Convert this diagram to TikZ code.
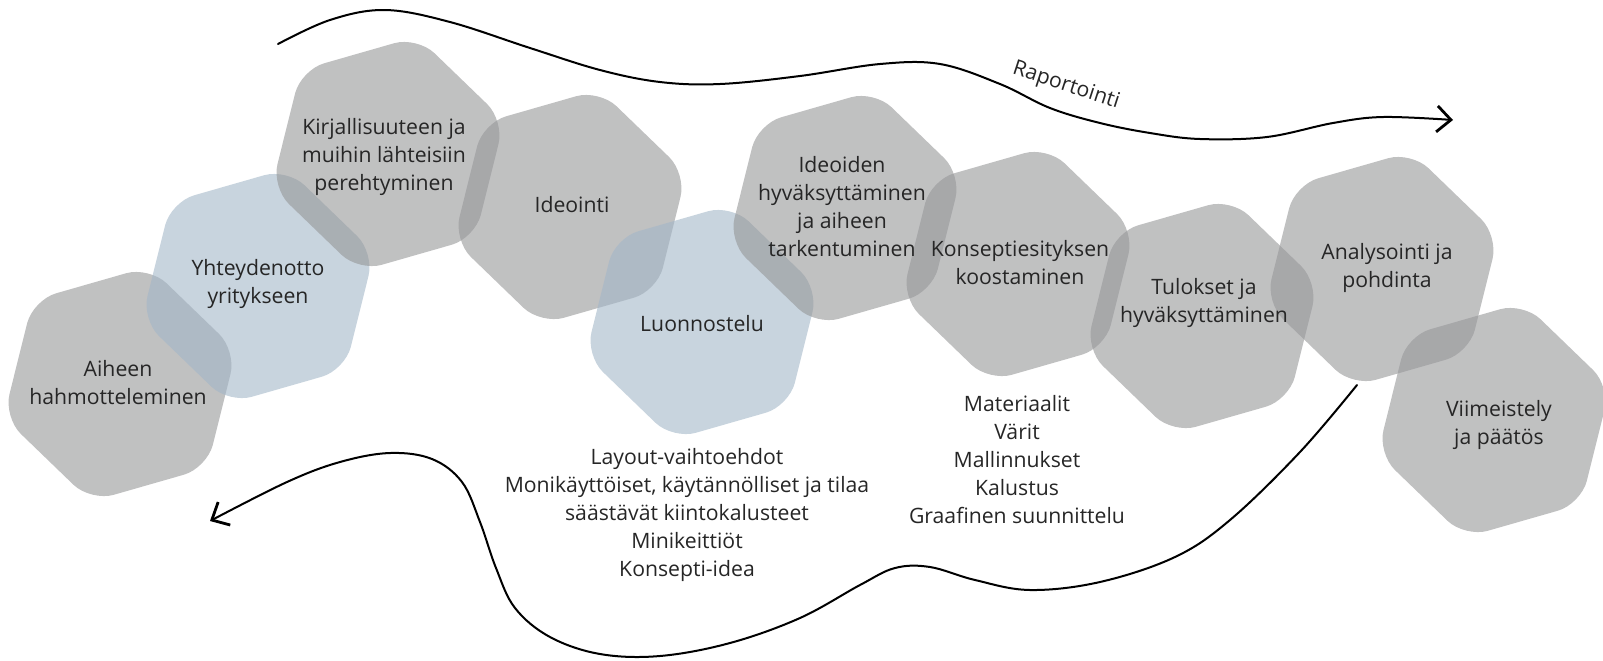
\documentclass[tikz,border=0pt]{standalone}
\usepackage{fontspec}
\setmainfont{Open Sans}
\usetikzlibrary{shapes.geometric,arrows.meta}
\definecolor{hexgray}{RGB}{150,151,152}
\definecolor{hexblue}{RGB}{163,183,200}
\tikzset{
  hexa/.style={regular polygon, regular polygon sides=6, shape border rotate=16,
    minimum size=121pt, inner sep=0pt, rounded corners=12pt,
    draw=none, fill=hexgray, fill opacity=0.6},
  bluehexa/.style={hexa, fill=hexblue},
  lbl/.style={align=center, inner sep=0pt, text=black!85,
    font=\fontsize{10.6}{14}\selectfont},
  wave/.style={line width=1pt, line cap=round,
    -{Straight Barb[length=7pt,width=13pt,line width=1.4pt]}}
}
\begin{document}
\begin{tikzpicture}[x=0.5pt,y=-0.5pt]
  \useasboundingbox (0,0) rectangle (1603,660);
  % hexagons
  \node[hexa] (aihe) at (120,384) {};
  \node[bluehexa] (yhteys) at (258,286) {};
  \node[hexa] (kirj) at (388,154) {};
  \node[hexa] (ideo) at (570,207) {};
  \node[bluehexa] (luon) at (702,322) {};
  \node[hexa] (hyva) at (845,208) {};
  \node[hexa] (kons) at (1018,264) {};
  \node[hexa] (tulo) at (1202,316) {};
  \node[hexa] (anal) at (1382,269) {};
  \node[hexa] (viim) at (1494,420) {};
  % texts
  \node[lbl] (aiheT) at (118,383) {Aiheen\\hahmotteleminen};
  \node[lbl] (yhteysT) at (258,284) {Yhteydenotto\\yritykseen};
  \node[lbl] (kirjT) at (384,157) {Kirjallisuuteen ja\\muihin lähteisiin\\perehtyminen};
  \node[lbl] (ideoT) at (572,205) {Ideointi};
  \node[lbl] (luonT) at (702,324) {Luonnostelu};
  \node[lbl] (hyvaT) at (842,207) {Ideoiden\\hyväksyttäminen\\ja aiheen\\tarkentuminen};
  \node[lbl] (konsT) at (1020,263) {Konseptiesityksen\\koostaminen};
  \node[lbl] (tuloT) at (1204,303) {Tulokset ja\\hyväksyttäminen};
  \node[lbl] (analT) at (1387,268) {Analysointi ja\\pohdinta};
  \node[lbl] (viimT) at (1499,425) {Viimeistely\\ja päätös};
  \node[lbl] (luonL) at (687,515) {Layout-vaihtoehdot\\Monikäyttöiset, käytännölliset ja tilaa\\säästävät kiintokalusteet\\Minikeittiöt\\Konsepti-idea};
  \node[lbl] (konsL) at (1017,460) {Materiaalit\\Värit\\Mallinnukset\\Kalustus\\Graafinen suunnittelu};
  \node[lbl, rotate=-18] (rap) at (1066,86) {Raportointi};
  % arrows
  \coordinate (repS) at (278,44);
  \coordinate (repE) at (1453,120);
  \coordinate (palS) at (1357,385);
  \coordinate (palE) at (210,521);
  \draw[wave] plot[smooth, tension=0.6] coordinates {(repS) (330,20) (385,10) (450,22)
    (530,48) (600,70) (660,82) (720,84) (800,76) (880,64) (940,64) (1000,84)
    (1050,108) (1100,123) (1150,133) (1200,139) (1267,137) (1333,123) (1383,117) (repE)};
  \draw[wave] plot[smooth, tension=0.6] coordinates {(palS) (1300,452) (1230,520)
    (1175,557) (1100,582) (1030,590) (975,580) (930,567) (895,568) (860,585)
    (800,618) (730,643) (660,656) (600,654) (550,637) (515,608) (496,568)
    (480,522) (462,482) (432,459) (390,453) (340,462) (287,482) (palE)};
\end{tikzpicture}
\end{document}
